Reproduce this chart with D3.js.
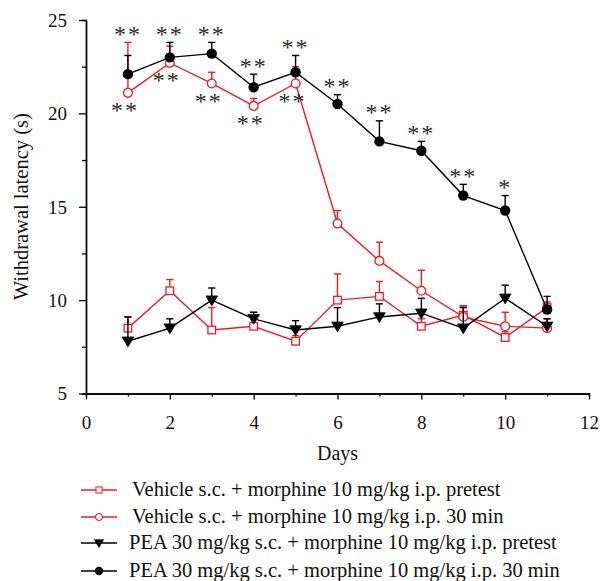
<!DOCTYPE html>
<html>
<head>
<meta charset="utf-8">
<script src="https://cdn.jsdelivr.net/npm/d3@7/dist/d3.min.js"></script>
<style>
  html, body { margin: 0; padding: 0; background: #fff; }
  svg { display: block; }
  svg text { font-family: 'Liberation Serif', 'Times New Roman', serif !important; fill: #111; }
</style>
</head>
<body>
<svg id="chart" width="600" height="581"></svg>
<script>
// Withdrawal latency (s) per test day, mean and upper SEM
const days = [1, 2, 3, 4, 5, 6, 7, 8, 9, 10, 11];

const vehPre    = [8.5, 10.5, 8.4, 8.6, 7.8, 10.0, 10.2, 8.6, 9.2, 8.0, 9.6];
const vehPreErr = [0.6, 0.6, 1.2, 0.75, 0.3, 1.4, 0.8, 0.4, 0.5, 0.3, 0.3];

const veh30     = [21.1, 22.7, 21.6, 20.4, 21.6, 14.1, 12.1, 10.5, 9.1, 8.6, 8.5];
const veh30Err  = [2.7, 0.9, 0.6, 0.4, 0.9, 0.7, 1.0, 1.1, 0.6, 0.75, 0.5];

const peaPre    = [7.8, 8.5, 10.0, 9.0, 8.4, 8.6, 9.1, 9.3, 8.5, 10.1, 8.6];
const peaPreErr = [1.3, 0.5, 0.65, 0.35, 0.5, 1.0, 0.7, 0.8, 1.1, 0.7, 0.4];

const pea30     = [22.1, 23.0, 23.2, 21.4, 22.2, 20.5, 18.5, 18.0, 15.6, 14.8, 9.5];
const pea30Err  = [1.0, 0.8, 0.6, 0.7, 0.9, 0.5, 1.1, 0.5, 0.6, 0.8, 0.7];

// Significance marks: above the PEA 30 min curve, below the vehicle 30 min curve
const peaStars = ["**", "**", "**", "**", "**", "**", "**", "**", "**", "*", ""];
const vehStars = ["**", "**", "**", "**", "**", "", "", "", "", "", ""];

const xTicks = [0, 2, 4, 6, 8, 10, 12];
const yTicks = [5, 10, 15, 20, 25];

const legendLabels = [
  "Vehicle s.c. + morphine 10 mg/kg i.p. pretest",
  "Vehicle s.c. + morphine 10 mg/kg i.p. 30 min",
  "PEA 30 mg/kg s.c. + morphine 10 mg/kg i.p. pretest",
  "PEA 30 mg/kg s.c. + morphine 10 mg/kg i.p. 30 min"
];

const RED = "#ed1c24";
const BLACK = "#000";

const series = [
  { name: legendLabels[0], values: vehPre, err: vehPreErr, color: RED,   marker: "square" },
  { name: legendLabels[1], values: veh30,  err: veh30Err,  color: RED,   marker: "openCircle" },
  { name: legendLabels[2], values: peaPre, err: peaPreErr, color: BLACK, marker: "triangleDown" },
  { name: legendLabels[3], values: pea30,  err: pea30Err,  color: BLACK, marker: "filledCircle" }
];

const svg = d3.select("#chart");
const x = d3.scaleLinear().domain([0, 12]).range([86, 589]);
const y = d3.scaleLinear().domain([5, 25]).range([393.5, 20]);

// Axes with major and minor ticks
function styleAxis(g) {
  g.attr("font-family", null).attr("font-size", null);
  g.selectAll("path.domain").attr("stroke", "#000").attr("stroke-width", 1.4);
  g.selectAll("line").attr("stroke", "#000").attr("stroke-width", 1.3);
}

svg.append("g").attr("transform", `translate(0,${y(5)})`)
  .call(d3.axisBottom(x).tickValues(d3.range(1, 12, 2)).tickSize(3).tickFormat(""))
  .call(styleAxis);
const xMajor = svg.append("g").attr("transform", `translate(0,${y(5)})`)
  .call(d3.axisBottom(x).tickValues(xTicks).tickSize(6).tickSizeOuter(0).tickFormat(d3.format("d")))
  .call(styleAxis);
xMajor.selectAll("text").attr("y", 35).attr("dy", 0)
  .style("font-size", "19px");

svg.append("g").attr("transform", `translate(${x(0)},0)`)
  .call(d3.axisLeft(y).tickValues([7.5, 12.5, 17.5, 22.5]).tickSize(4).tickFormat(""))
  .call(styleAxis);
const yMajor = svg.append("g").attr("transform", `translate(${x(0)},0)`)
  .call(d3.axisLeft(y).tickValues(yTicks).tickSize(7).tickSizeOuter(0).tickPadding(12).tickFormat(d3.format("d")))
  .call(styleAxis);
yMajor.selectAll("text").attr("dy", "0.34em")
  .style("font-size", "19px");

svg.append("text")
  .attr("x", x(6)).attr("y", 460)
  .attr("text-anchor", "middle")
  .style("font-size", "20px")
  .text("Days");

svg.append("text")
  .attr("transform", `translate(28,${(y(5) + y(25)) / 2}) rotate(-90)`)
  .attr("text-anchor", "middle")
  .style("font-size", "20.5px")
  .text("Withdrawal latency (s)");

// Marker drawing
function drawMarker(g, type, color) {
  if (type === "square") {
    g.append("rect").attr("x", -3.8).attr("y", -3.8).attr("width", 7.6).attr("height", 7.6)
      .attr("fill", "#fff").attr("stroke", color).attr("stroke-width", 1.3);
  } else if (type === "openCircle") {
    g.append("circle").attr("r", 4.4)
      .attr("fill", "#fff").attr("stroke", color).attr("stroke-width", 1.3);
  } else if (type === "triangleDown") {
    g.append("path").attr("d", "M-5.8,-4.2 L5.8,-4.2 L0,5.6 Z")
      .attr("fill", color).attr("stroke", color).attr("stroke-width", 0.8);
  } else {
    g.append("circle").attr("r", 5.2).attr("fill", color);
  }
}

const line = d3.line().x((d, i) => x(days[i])).y(d => y(d));

series.forEach(s => {
  const g = svg.append("g");
  g.append("path").datum(s.values)
    .attr("d", line).attr("fill", "none")
    .attr("stroke", s.color).attr("stroke-width", 1.4);

  // upper error bars
  const eb = g.selectAll("g.err").data(s.values).enter().append("g");
  eb.append("line")
    .attr("x1", (d, i) => x(days[i])).attr("x2", (d, i) => x(days[i]))
    .attr("y1", d => y(d)).attr("y2", (d, i) => y(d + s.err[i]))
    .attr("stroke", s.color).attr("stroke-width", 1.4);
  eb.append("line")
    .attr("x1", (d, i) => x(days[i]) - 3.6).attr("x2", (d, i) => x(days[i]) + 3.6)
    .attr("y1", (d, i) => y(d + s.err[i])).attr("y2", (d, i) => y(d + s.err[i]))
    .attr("stroke", s.color).attr("stroke-width", 1.4);

  s.values.forEach((v, i) => {
    const m = g.append("g").attr("transform", `translate(${x(days[i])},${y(v)})`);
    drawMarker(m, s.marker, s.color);
  });
});

// Significance asterisks
const starSize = 24;
const starLift = 11.5;  // glyph centre above the baseline
function starText(xPos, yPos, label) {
  svg.append("text")
    .attr("x", xPos).attr("y", yPos)
    .attr("text-anchor", "middle")
    .style("font-size", starSize + "px").style("letter-spacing", "2px")
    .style("fill", "#2a2a2a")
    .text(label);
}
days.forEach((d, i) => {
  if (peaStars[i]) {
    const top = Math.min(y(pea30[i] + pea30Err[i]), y(veh30[i] + veh30Err[i]));
    starText(x(d), top - 12 + starLift, peaStars[i]);
  }
  if (vehStars[i]) {
    starText(x(d) - 3, y(veh30[i]) + 14 + starLift, vehStars[i]);
  }
});

// Legend
const legendY = [490, 517, 543, 571];
series.forEach((s, i) => {
  const g = svg.append("g").attr("transform", `translate(0,${legendY[i]})`);
  g.append("line").attr("x1", 81).attr("x2", 117).attr("y1", 0).attr("y2", 0)
    .attr("stroke", s.color).attr("stroke-width", 1.4);
  const m = g.append("g").attr("transform", "translate(99,0) scale(0.8)");
  drawMarker(m, s.marker, s.color);
  g.append("text").attr("x", i < 2 ? 132 : 129).attr("y", 6)
    .style("font-size", "20.5px")
    .text(s.name);
});
</script>
</body>
</html>
